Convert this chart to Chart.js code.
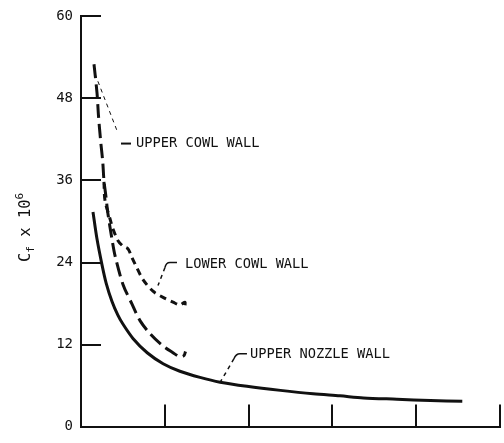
<!DOCTYPE html>
<html>
<head>
<meta charset="utf-8">
<script src="https://cdn.jsdelivr.net/npm/chart.js@4.4.1/dist/chart.umd.min.js"></script>
<style>
  html, body { margin: 0; padding: 0; background: #fff; }
  canvas { display: block; }
</style>
</head>
<body>
<canvas id="cf" width="504" height="443"></canvas>
<script>
// Skin-friction coefficient along the walls (Cf x 10^6)
const nozzleX = [0.143, 0.19, 0.25, 0.30, 0.37, 0.44, 0.50, 0.62, 0.79, 0.98, 1.18, 1.42, 1.66, 1.98, 2.38, 2.77, 3.09, 3.37, 3.77, 4.17, 4.55];
const nozzleY = [31.4, 27.5, 23.7, 21.0, 18.3, 16.3, 15.0, 12.9, 10.8, 9.2, 8.1, 7.2, 6.5, 5.9, 5.3, 4.8, 4.5, 4.2, 4.0, 3.8, 3.7];

const upperCowlX = [0.155, 0.191, 0.209, 0.235, 0.259, 0.274, 0.298, 0.322, 0.370, 0.406, 0.501, 0.609, 0.704, 0.823, 0.967, 1.098, 1.181, 1.230, 1.247];
const upperCowlY = [53.0, 48.8, 45.4, 41.7, 38.8, 36.0, 33.6, 31.1, 27.4, 25.0, 20.8, 17.9, 15.5, 13.6, 11.9, 10.8, 10.2, 10.4, 11.0];

const lowerCowlX = [0.274, 0.286, 0.346, 0.382, 0.442, 0.501, 0.561, 0.609, 0.668, 0.740, 0.859, 0.979, 1.098, 1.181, 1.241, 1.235];
const lowerCowlY = [35.8, 33.1, 30.4, 28.9, 27.2, 26.4, 26.0, 24.7, 23.2, 21.5, 19.8, 18.9, 18.2, 17.8, 18.2, 17.2];

const xTickValues = [1, 2, 3, 4, 5];
const yTickValues = [12, 24, 36, 48, 60];

const curveLabels = ['UPPER COWL WALL', 'LOWER COWL WALL', 'UPPER NOZZLE WALL'];

const FONT = '"DejaVu Sans Mono", "Liberation Mono", monospace';
const INK = '#111';

const pts = (xs, ys) => xs.map((x, i) => ({ x, y: ys[i] }));

function curve(xs, ys, dash) {
  return {
    data: pts(xs, ys),
    showLine: true,
    borderColor: INK,
    borderWidth: 3,
    borderDash: dash,
    pointRadius: 0,
    tension: 0.3,
    fill: false
  };
}

// Inward tick marks, axis title and the curve call-outs
const decorations = {
  id: 'decorations',
  beforeDraw(chart) {
    const { ctx, width, height } = chart;
    ctx.save();
    ctx.fillStyle = '#fff';
    ctx.fillRect(0, 0, width, height);
    ctx.restore();
  },
  beforeDatasetsDraw(chart) {
    const { ctx, chartArea: a, scales: { x, y } } = chart;
    ctx.save();
    ctx.strokeStyle = INK;
    ctx.lineWidth = 2;
    ctx.beginPath();
    yTickValues.forEach(v => {
      const py = Math.round(y.getPixelForValue(v));
      ctx.moveTo(a.left - 1, py);
      ctx.lineTo(a.left + 20, py);
    });
    xTickValues.forEach(v => {
      const px = Math.round(x.getPixelForValue(v));
      ctx.moveTo(px, a.bottom);
      ctx.lineTo(px, a.bottom - 22);
    });
    ctx.stroke();
    ctx.restore();
  },
  afterDraw(chart) {
    const { ctx, scales: { x, y } } = chart;
    const P = (vx, vy) => [x.getPixelForValue(vx), y.getPixelForValue(vy)];
    ctx.save();
    ctx.strokeStyle = INK;
    ctx.fillStyle = INK;
    ctx.textBaseline = 'middle';
    ctx.textAlign = 'left';
    ctx.font = '13.7px ' + FONT;

    // UPPER COWL WALL
    let [x0, y0] = P(0.167, 51.6);
    let [x1, y1] = P(0.442, 42.9);
    ctx.lineWidth = 1;
    ctx.setLineDash([4, 4]);
    ctx.beginPath(); ctx.moveTo(x0, y0); ctx.lineTo(x1, y1); ctx.stroke();
    ctx.setLineDash([]);
    ctx.lineWidth = 2;
    let [lx, ly] = P(0.477, 41.4);
    ctx.beginPath(); ctx.moveTo(lx, ly); ctx.lineTo(lx + 10, ly); ctx.stroke();
    ctx.fillText(curveLabels[0], lx + 15, ly);

    // LOWER COWL WALL
    [lx, ly] = P(1.038, 24.0);
    ctx.lineWidth = 1.5;
    ctx.beginPath();
    ctx.moveTo(lx + 9, ly);
    ctx.lineTo(lx + 2, ly);
    ctx.quadraticCurveTo(lx - 2, ly, lx - 3, ly + 5);
    ctx.stroke();
    ctx.setLineDash([4, 4]);
    ctx.beginPath(); ctx.moveTo(lx - 3, ly + 5); ctx.lineTo(lx - 10, ly + 23); ctx.stroke();
    ctx.setLineDash([]);
    ctx.fillText(curveLabels[1], lx + 17, ly + 2);

    // UPPER NOZZLE WALL
    [lx, ly] = P(1.873, 10.66);
    ctx.beginPath();
    ctx.moveTo(lx + 9, ly);
    ctx.lineTo(lx + 2, ly);
    ctx.quadraticCurveTo(lx - 2, ly, lx - 4, ly + 5);
    ctx.stroke();
    ctx.setLineDash([4, 4]);
    ctx.beginPath(); ctx.moveTo(lx - 4, ly + 5); ctx.lineTo(lx - 18, ly + 29); ctx.stroke();
    ctx.setLineDash([]);
    ctx.fillText(curveLabels[2], lx + 12, ly + 1);

    // Axis title: Cf x 10^6, read bottom to top
    ctx.translate(30, 262);
    ctx.rotate(-Math.PI / 2);
    ctx.textBaseline = 'alphabetic';
    let cx = 0;
    ctx.font = '15.5px ' + FONT;
    ctx.fillText('C', cx, 0); cx += ctx.measureText('C').width;
    ctx.font = '11px ' + FONT;
    ctx.fillText('f', cx, 4); cx += ctx.measureText('f').width;
    ctx.font = '15.5px ' + FONT;
    ctx.fillText(' x 10', cx, 0); cx += ctx.measureText(' x 10').width;
    ctx.font = '11px ' + FONT;
    ctx.fillText('6', cx, -7);
    ctx.restore();
  }
};

new Chart(document.getElementById('cf'), {
  type: 'scatter',
  data: {
    datasets: [
      curve(nozzleX, nozzleY, []),
      curve(upperCowlX, upperCowlY, [14, 6]),
      curve(lowerCowlX, lowerCowlY, [7, 5])
    ]
  },
  options: {
    responsive: false,
    animation: false,
    devicePixelRatio: 1,
    layout: { padding: { top: 14, right: 4, bottom: 0, left: 0 } },
    plugins: { legend: { display: false }, tooltip: { enabled: false } },
    scales: {
      x: {
        type: 'linear',
        min: 0,
        max: 5,
        ticks: { display: false },
        grid: { display: false, drawTicks: false },
        border: { display: true, color: INK, width: 2 },
        afterFit: s => { s.height = 7; }
      },
      y: {
        min: 0,
        max: 60,
        ticks: {
          stepSize: 12,
          padding: 8,
          color: INK,
          font: { family: FONT, size: 14 }
        },
        grid: { display: false, drawTicks: false },
        border: { display: true, color: INK, width: 2 },
        afterFit: s => { s.width = 81; }
      }
    }
  },
  plugins: [decorations]
});
</script>
</body>
</html>
